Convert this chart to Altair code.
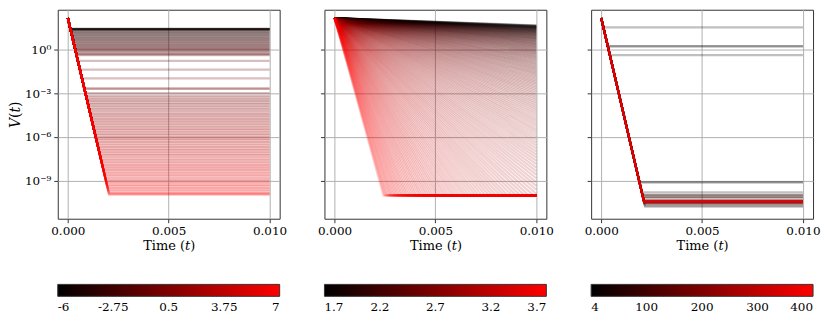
import altair as alt
import pandas as pd

FONT = "DejaVu Serif"

# ---- values (log10 of V) ----
LOG_V0 = 2.13          # common starting level V(0)
T_END = 0.01

x_ticks = [0.0, 0.005, 0.01]
y_ticks = [1.0, 1e-3, 1e-6, 1e-9]

# Panel 1: colour parameter -6 .. 7, each line leaves the common decay at its plateau
p1_param = [-6.0, -5.9, -5.8, -5.7, -5.6, -5.5, -5.4, -5.3,
            -4.5, -4.39, -4.27, -4.16, -4.04, -3.93, -3.81, -3.70, -3.59, -3.47,
            -3.36, -3.24, -3.13, -3.01, -2.90, -2.79, -2.67, -2.56, -2.44, -2.33,
            -2.21, -2.10, -1.99, -1.87, -1.76, -1.64, -1.53, -1.41, -1.30,
            -1.1, -0.9, -0.6, -0.3, -0.2, 0.0,
            0.2, 0.31, 0.42, 0.53, 0.65, 0.76, 0.87, 0.98, 1.09, 1.20,
            1.32, 1.43, 1.54, 1.65, 1.76, 1.87, 1.98, 2.10, 2.21, 2.32,
            2.43, 2.54, 2.65, 2.76, 2.88, 2.99, 3.10, 3.21, 3.32, 3.43,
            3.54, 3.66, 3.77, 3.88, 3.99, 4.10, 4.21, 4.32, 4.44, 4.55,
            4.66, 4.77, 4.88, 4.99, 5.10, 5.22, 5.33, 5.44, 5.55, 5.66,
            5.77, 5.88, 6.00, 6.11, 6.22, 6.33, 6.44, 6.55, 6.66, 6.78,
            6.89, 7.0]
p1_plateau = [1.39, 1.385, 1.38, 1.375, 1.37, 1.365, 1.36, 1.35,
              1.30, 1.24, 1.18, 1.12, 1.06, 1.00, 0.94, 0.88, 0.82, 0.76,
              0.70, 0.64, 0.58, 0.52, 0.46, 0.40, 0.34, 0.28, 0.22, 0.16,
              0.10, 0.04, 0.00, -0.06, -0.14, -0.22, -0.30, -0.36, -0.40,
              -0.8, -1.4, -2.0, -2.68, -2.72, -3.0,
              -3.20, -3.31, -3.43, -3.54, -3.65, -3.76, -3.88, -3.99, -4.10, -4.21,
              -4.33, -4.44, -4.55, -4.66, -4.78, -4.89, -5.00, -5.11, -5.23, -5.34,
              -5.45, -5.56, -5.68, -5.79, -5.90, -6.01, -6.13, -6.24, -6.35, -6.46,
              -6.58, -6.69, -6.80, -6.91, -7.03, -7.14, -7.25, -7.36, -7.48, -7.59,
              -7.70, -7.81, -7.93, -8.04, -8.15, -8.26, -8.38, -8.49, -8.60, -8.71,
              -8.83, -8.94, -9.05, -9.16, -9.28, -9.39, -9.50, -9.61, -9.73, -9.84,
              -9.90, -9.95]
p1_knee_t = [0.000126, 0.000126, 0.000127, 0.000128, 0.000129, 0.000130, 0.000131, 0.000132,
             0.000141, 0.000151, 0.000161, 0.000171, 0.000182, 0.000192, 0.000202, 0.000212, 0.000222,
             0.000232, 0.000243, 0.000253, 0.000263, 0.000273, 0.000283, 0.000294, 0.000304, 0.000314,
             0.000324, 0.000334, 0.000344, 0.000355, 0.000361, 0.000372, 0.000385, 0.000399, 0.000412,
             0.000423, 0.000429,
             0.000497, 0.000599, 0.000701, 0.000816, 0.000823, 0.000871,
             0.000905, 0.000924, 0.000943, 0.000962, 0.000981, 0.001000, 0.001020, 0.001039, 0.001058, 0.001077,
             0.001096, 0.001115, 0.001134, 0.001153, 0.001172, 0.001191, 0.001210, 0.001230, 0.001249, 0.001268,
             0.001287, 0.001306, 0.001325, 0.001344, 0.001363, 0.001382, 0.001401, 0.001420, 0.001440, 0.001459,
             0.001478, 0.001497, 0.001516, 0.001535, 0.001554, 0.001573, 0.001592, 0.001611, 0.001630, 0.001650,
             0.001669, 0.001688, 0.001707, 0.001726, 0.001745, 0.001764, 0.001783, 0.001802, 0.001821, 0.001840,
             0.001860, 0.001879, 0.001898, 0.001917, 0.001936, 0.001955, 0.001974, 0.001993, 0.002012, 0.002031,
             0.002041, 0.002050]

# Panel 2: colour parameter 1.7 .. 3.7, a fan of decays; steep ones flatten at the floor
p2_param = [1.70, 1.72, 1.74, 1.76, 1.78, 1.80, 1.82, 1.84, 1.86, 1.88,
            1.90, 1.92, 1.94, 1.96, 1.98, 2.00, 2.02, 2.04, 2.06, 2.08,
            2.10, 2.12, 2.14, 2.16, 2.18, 2.20, 2.22, 2.24, 2.26, 2.28,
            2.30, 2.32, 2.34, 2.36, 2.38, 2.40, 2.42, 2.44, 2.46, 2.48,
            2.50, 2.52, 2.54, 2.56, 2.58, 2.60, 2.62, 2.64, 2.66, 2.68,
            2.70, 2.72, 2.74, 2.76, 2.78, 2.80, 2.82, 2.84, 2.86, 2.88,
            2.90, 2.92, 2.94, 2.96, 2.98, 3.00, 3.02, 3.04, 3.06, 3.08,
            3.10, 3.12, 3.14, 3.16, 3.18, 3.20, 3.22, 3.24, 3.26, 3.28,
            3.30, 3.32, 3.34, 3.36, 3.38, 3.40, 3.42, 3.44, 3.46, 3.48,
            3.50, 3.52, 3.54, 3.56, 3.58, 3.60, 3.62, 3.64, 3.66, 3.68,
            3.70]
p2_knee_t = [0.01] * 70 + [
    0.00963, 0.00920, 0.00879, 0.00839, 0.00801, 0.00765, 0.00731, 0.00698, 0.00666, 0.00637,
    0.00608, 0.00581, 0.00554, 0.00529, 0.00506, 0.00483, 0.00461, 0.00440, 0.00421, 0.00402,
    0.00384, 0.00366, 0.00350, 0.00334, 0.00319, 0.00305, 0.00291, 0.00278, 0.00265, 0.00253,
    0.00242]
p2_knee_level = [
    1.629, 1.605, 1.580, 1.555, 1.527, 1.499, 1.469, 1.438, 1.406, 1.371,
    1.336, 1.298, 1.259, 1.218, 1.175, 1.130, 1.083, 1.034, 0.982, 0.928,
    0.871, 0.812, 0.750, 0.685, 0.616, 0.545, 0.470, 0.392, 0.310, 0.225,
    0.135, 0.041, -0.058, -0.161, -0.269, -0.382, -0.500, -0.624, -0.754, -0.890,
    -1.032, -1.181, -1.337, -1.501, -1.672, -1.851, -2.039, -2.235, -2.441, -2.656,
    -2.882, -3.118, -3.365, -3.624, -3.896, -4.180, -4.477, -4.788, -5.114, -5.456,
    -5.813, -6.188, -6.580, -6.990, -7.420, -7.870, -8.340, -8.830, -9.350, -9.890] + [-10.0] * 31

# Panel 2, the lines lying between the ones above
p2b_param = [1.71, 1.73, 1.75, 1.77, 1.79, 1.81, 1.83, 1.85, 1.87, 1.89,
             1.91, 1.93, 1.95, 1.97, 1.99, 2.01, 2.03, 2.05, 2.07, 2.09,
             2.11, 2.13, 2.15, 2.17, 2.19, 2.21, 2.23, 2.25, 2.27, 2.29,
             2.31, 2.33, 2.35, 2.37, 2.39, 2.41, 2.43, 2.45, 2.47, 2.49,
             2.51, 2.53, 2.55, 2.57, 2.59, 2.61, 2.63, 2.65, 2.67, 2.69,
             2.71, 2.73, 2.75, 2.77, 2.79, 2.81, 2.83, 2.85, 2.87, 2.89,
             2.91, 2.93, 2.95, 2.97, 2.99, 3.01, 3.03, 3.05, 3.07,
             3.09, 3.11, 3.13, 3.15, 3.17, 3.19, 3.21, 3.23, 3.25, 3.27,
             3.29, 3.31, 3.33, 3.35, 3.37, 3.39, 3.41, 3.43, 3.45, 3.47,
             3.49, 3.51, 3.53, 3.55, 3.57, 3.59, 3.61, 3.63, 3.65, 3.67,
             3.69]
p2b_knee_t = [0.01] * 69 + [
    0.00986, 0.00942, 0.00899, 0.00858, 0.00820, 0.00783, 0.00748, 0.00714, 0.00682, 0.00651,
    0.00622, 0.00594, 0.00567, 0.00542, 0.00517, 0.00494, 0.00472, 0.00451, 0.00430, 0.00411,
    0.00393, 0.00375, 0.00358, 0.00342, 0.00327, 0.00312, 0.00298, 0.00284, 0.00272, 0.00259,
    0.00248]
p2b_knee_level = [
    1.617, 1.593, 1.568, 1.541, 1.513, 1.484, 1.454, 1.422, 1.389, 1.354,
    1.317, 1.279, 1.239, 1.197, 1.153, 1.107, 1.058, 1.008, 0.955, 0.900,
    0.842, 0.781, 0.717, 0.651, 0.581, 0.508, 0.432, 0.352, 0.268, 0.180,
    0.088, -0.008, -0.109, -0.214, -0.325, -0.440, -0.562, -0.688, -0.821, -0.960,
    -1.106, -1.258, -1.418, -1.585, -1.760, -1.944, -2.136, -2.337, -2.547, -2.768,
    -2.999, -3.240, -3.493, -3.758, -4.036, -4.327, -4.631, -4.949, -5.283, -5.632,
    -5.998, -6.381, -6.783, -7.203, -7.642, -8.10, -8.59, -9.09, -9.62] + [-10.0] * 31

# Panel 3: colour parameter 4 .. 400, almost all lines collapse onto the bottom plateau
p3_param = [4, 6, 7, 9, 14, 16, 20, 24, 28, 32, 60, 62, 75, 78, 90,
            100, 115, 130, 145, 160, 175, 190, 205, 220, 235, 250, 265, 280, 295,
            310, 325, 340, 355, 370, 385, 400]
p3_plateau = [1.50, 0.20, 0.21, -0.40, -9.10, -9.12, -9.80, -10.62, -10.70, -10.78,
              -9.97, -9.98, -10.10, -10.11, -10.20,
              -10.55, -10.33, -10.52, -10.36, -10.50, -10.38, -10.48, -10.40, -10.47, -10.41,
              -10.46, -10.42, -10.45, -10.43, -10.44, -10.42, -10.45, -10.43, -10.44, -10.43, -10.44]
p3_knee_t = [0.000106, 0.000326, 0.000324, 0.000427, 0.001896, 0.001899, 0.002014, 0.002152, 0.002166,
             0.002179, 0.002042, 0.002044, 0.002064, 0.002066, 0.002081,
             0.002140, 0.002103, 0.002135, 0.002108, 0.002132, 0.002112, 0.002129, 0.002115, 0.002127,
             0.002117, 0.002125, 0.002118, 0.002124, 0.002120, 0.002122, 0.002118, 0.002124, 0.002120,
             0.002122, 0.002120, 0.002122]

# colour bar ticks
cb1_ticks = [-6, -2.75, 0.5, 3.75, 7]
cb2_ticks = [1.7, 2.2, 2.7, 3.2, 3.7]
cb3_ticks = [4, 103, 202, 301, 400]


def build(params, knee_t, knee_level, prefix):
    lines = sorted(zip(params, knee_t, knee_level))
    rows = []
    for i, (p, tk, lv) in enumerate(lines):
        lid = f"{prefix}{i:03d}"
        rows.append(dict(line=lid, p=p, t=0.0, v=10 ** LOG_V0, o=0))
        rows.append(dict(line=lid, p=p, t=tk, v=10 ** lv, o=1))
        if tk < T_END:
            rows.append(dict(line=lid, p=p, t=T_END, v=10 ** lv, o=2))
    return pd.DataFrame(rows)


df1 = build(p1_param, p1_knee_t, p1_plateau, "a")
df2 = build(p2_param + p2b_param, p2_knee_t + p2b_knee_t, p2_knee_level + p2b_knee_level, "b")
df3 = build(p3_param, p3_knee_t, p3_plateau, "c")

W, H = 223, 210
Y_DOMAIN = [10 ** -11.6, 10 ** 2.7]
X_DOMAIN = [-0.0005, 0.0105]
FS = 12

y_label_expr = ("datum.value > 0.5 ? '10⁰' : datum.value > 5e-4 ? '10⁻³' : "
                "datum.value > 5e-7 ? '10⁻⁶' : '10⁻⁹'")


def panel(df, cdom, cticks, cexpr, first, opacity):
    if first:
        yaxis = alt.Axis(values=y_ticks, labelExpr=y_label_expr, title="𝑉(𝑡)", grid=True,
                         titlePadding=2, labelFont=FONT, titleFont=FONT, titleFontSize=14)
    else:
        yaxis = alt.Axis(values=y_ticks, labels=False, title=None, grid=True)
    legend = alt.Legend(orient="none", legendX=0, legendY=276, direction="horizontal",
                        gradientLength=W, gradientThickness=12, title=None, values=cticks,
                        labelExpr=cexpr, labelAlign="center", labelOverlap=False,
                        labelFont=FONT, labelFontSize=FS, labelColor="black", labelOffset=6,
                        padding=0, gradientOpacity=1, gradientStrokeColor="#333",
                        gradientStrokeWidth=1)
    return alt.Chart(df).mark_line(strokeWidth=2.2, opacity=opacity).encode(
        x=alt.X("t:Q", scale=alt.Scale(domain=X_DOMAIN, nice=False, zero=False),
                axis=alt.Axis(values=x_ticks, format=".3f", title="Time (𝑡)",
                              labelFlush=False, grid=True, titlePadding=3,
                              labelFont=FONT, titleFont=FONT)),
        y=alt.Y("v:Q", scale=alt.Scale(type="log", domain=Y_DOMAIN, nice=False), axis=yaxis),
        color=alt.Color("p:Q", scale=alt.Scale(domain=cdom, range=["#000000", "#ff0000"],
                                               interpolate="rgb"), legend=legend),
        detail="line:N",
        order="o:Q",
    ).properties(width=W, height=H)


cb3_expr = ("datum.value < 50 ? '4' : datum.value < 150 ? '100' : "
            "datum.value < 250 ? '200' : datum.value < 350 ? '300' : '400'")

c1 = panel(df1, [-6, 7], cb1_ticks, "'' + datum.value", True, 0.25)
c2 = panel(df2, [1.7, 3.7], cb2_ticks, "'' + datum.value", False, 0.18)
c3 = panel(df3, [4, 400], cb3_ticks, cb3_expr, False, 0.25)

chart = alt.hconcat(c1, c2, c3, spacing=45, bounds="flush").resolve_scale(
    color="independent"
).properties(
    padding={"left": 0, "top": 0, "right": 2, "bottom": 2}
).configure(
    font=FONT
).configure_view(
    stroke="#333", strokeWidth=1
).configure_axis(
    domain=False, tickColor="#333", tickSize=4, gridColor="#b0b0b0", gridWidth=1,
    labelFont=FONT, labelFontSize=FS, labelColor="black", labelPadding=3,
    titleFont=FONT, titleFontSize=13, titleFontWeight="normal", titleColor="black",
    titlePadding=3
)

chart.save("out.html", embed_options={"renderer": "svg", "actions": False})
